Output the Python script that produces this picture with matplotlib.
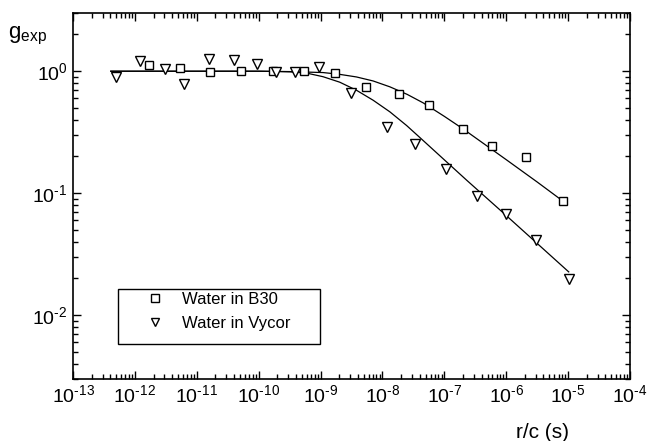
import numpy as np
import matplotlib
matplotlib.use("Agg")
import matplotlib.pyplot as plt
from matplotlib.patches import Rectangle
from matplotlib.ticker import LogLocator, NullFormatter, FuncFormatter, FixedLocator

plt.rcParams['font.family'] = ['Liberation Sans', 'DejaVu Sans']
plt.rcParams['mathtext.fontset'] = 'custom'
plt.rcParams['mathtext.rm'] = 'Liberation Sans'
plt.rcParams['mathtext.it'] = 'Liberation Sans:italic'

# measured points, x stored as log10(r/c)
b30_logx = [-11.77, -11.27, -10.79, -10.28, -9.77, -9.27, -8.77, -8.27, -7.74, -7.25, -6.70, -6.23, -5.68, -5.08]
b30_g = [1.13, 1.06, 0.99, 1.0, 1.01, 1.0, 0.96, 0.74, 0.65, 0.53, 0.339, 0.246, 0.199, 0.0865]

vycor_logx = [-12.31, -11.91, -11.51, -11.21, -10.81, -10.40, -10.02, -9.72, -9.41, -9.02,
              -8.51, -7.93, -7.47, -6.97, -6.47, -6.0, -5.52, -4.99]
vycor_g = [0.90, 1.21, 1.04, 0.79, 1.25, 1.24, 1.15, 0.99, 0.99, 1.09,
           0.66, 0.35, 0.255, 0.159, 0.0945, 0.068, 0.0417, 0.0197]

# fitted curves (log10 x, log10 g)
b30_fit_logx = [-12.39, -10.0, -9.5, -8.96, -8.7, -8.42, -8.15, -7.88, -7.6, -7.34, -7.0, -6.7, -6.0, -5.5, -5.08]
b30_fit_logg = [0.0, 0.0, -0.003, -0.011, -0.025, -0.047, -0.08, -0.128, -0.19, -0.26, -0.37, -0.472, -0.725, -0.908, -1.066]

vycor_fit_logx = [-12.39, -10.0, -9.75, -9.49, -9.22, -8.96, -8.69, -8.42, -8.15, -7.88, -7.61, -7.39, -6.64, -6.05, -4.99]
vycor_fit_logg = [0.0, 0.0, -0.002, -0.005, -0.016, -0.045, -0.09, -0.156, -0.238, -0.333, -0.445, -0.546, -0.893, -1.16, -1.645]

x_decades = [-13, -12, -11, -10, -9, -8, -7, -6, -5, -4]
y_decades = [-2, -1, 0]


def log_label(v, pos):
    n = int(round(np.log10(v)))
    return r'$\mathdefault{10^{\text{%d}}}$' % n


def main():
    fig = plt.figure(figsize=(6.48, 4.41), dpi=100)
    ax = fig.add_axes([0.1127, 0.1406, 0.8595, 0.8299])

    ax.plot(10.0 ** np.array(b30_fit_logx), 10.0 ** np.array(b30_fit_logg), color='black', lw=0.9)
    ax.plot(10.0 ** np.array(vycor_fit_logx), 10.0 ** np.array(vycor_fit_logg), color='black', lw=0.9)
    ax.plot(10.0 ** np.array(b30_logx), b30_g, 's', ms=6, mfc='white', mec='black', mew=1.0,
            ls='none', label='Water in B30')
    ax.plot(10.0 ** np.array(vycor_logx), vycor_g, 'v', ms=6.8, mfc='white', mec='black', mew=1.0,
            ls='none', label='Water in Vycor')

    ax.set_xscale('log')
    ax.set_yscale('log')
    ax.set_xlim(1e-13, 1e-4)
    ax.set_ylim(3e-3, 3)

    ax.xaxis.set_major_locator(FixedLocator(10.0 ** np.array(x_decades, dtype=float)))
    ax.yaxis.set_major_locator(FixedLocator(10.0 ** np.array(y_decades, dtype=float)))
    ax.xaxis.set_minor_locator(LogLocator(base=10, subs=np.arange(2, 10), numticks=20))
    ax.yaxis.set_minor_locator(LogLocator(base=10, subs=np.arange(2, 10), numticks=20))
    ax.xaxis.set_major_formatter(FuncFormatter(log_label))
    ax.yaxis.set_major_formatter(FuncFormatter(log_label))
    ax.xaxis.set_minor_formatter(NullFormatter())
    ax.yaxis.set_minor_formatter(NullFormatter())

    ax.tick_params(which='both', direction='in', top=True, right=True, width=1.0)
    ax.tick_params(which='major', length=6, labelsize=14)
    ax.tick_params(axis='x', which='major', pad=4)
    ax.tick_params(axis='y', which='major', pad=4)
    ax.tick_params(which='minor', length=3.5)
    for s in ax.spines.values():
        s.set_linewidth(1.2)

    # legend frame drawn separately so its box matches the original proportions
    ax.add_patch(Rectangle((0.081, 0.0956), 0.3627, 0.150, transform=ax.transAxes,
                           fill=False, edgecolor='black', lw=1.0, zorder=4))
    ax.legend(loc='upper left', bbox_to_anchor=(0.117, 0.237), fontsize=12, frameon=False,
              borderpad=0, borderaxespad=0, handlelength=2.0, handletextpad=0.62,
              labelspacing=0.5, markerscale=0.85)

    fig.text(0.012, 0.912, r'g$_{\rm exp}$', fontsize=16)
    fig.text(543 / 648, 1 - 432 / 441, 'r/c (s)', fontsize=15, ha='center', va='center')

    fig.savefig('out.png', dpi=100)


if __name__ == "__main__":
    main()
